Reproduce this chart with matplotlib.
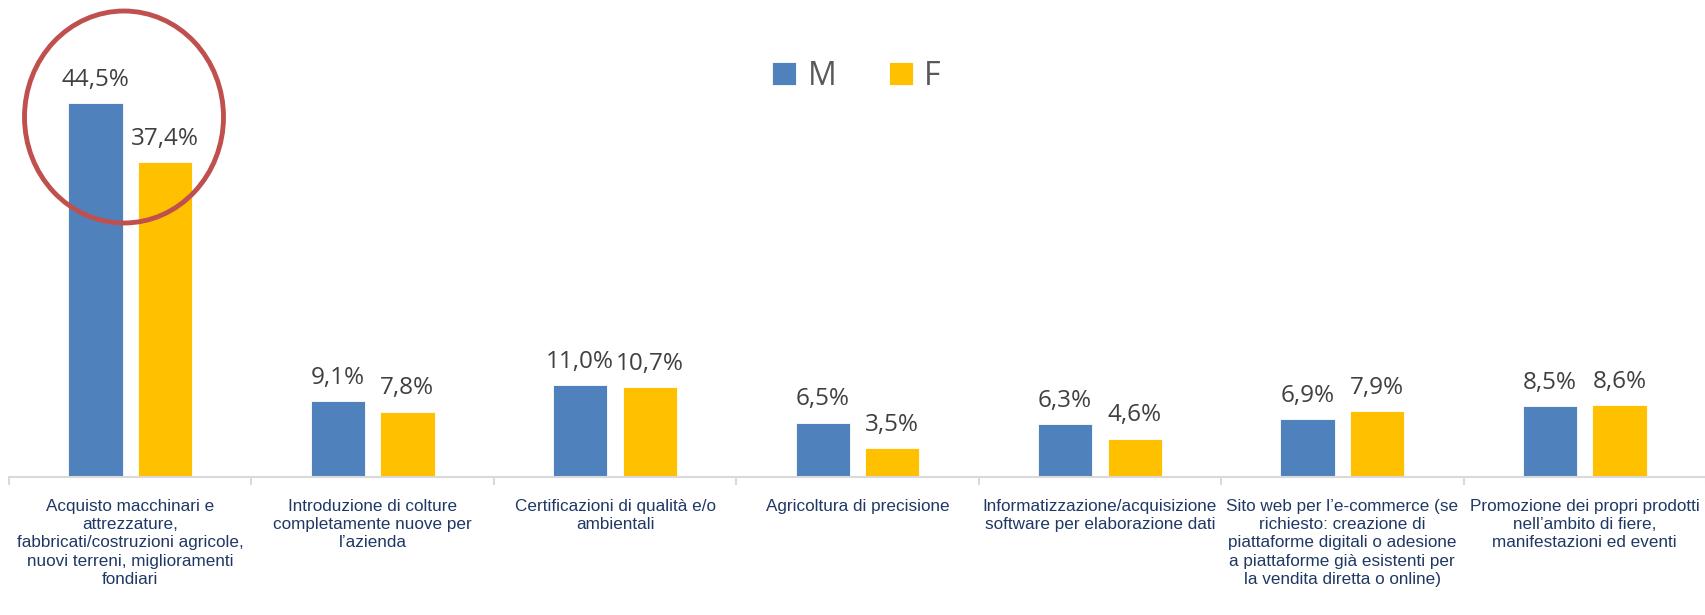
import numpy as np
import matplotlib
matplotlib.use("Agg")
import matplotlib.pyplot as plt
from matplotlib.patches import Ellipse
from matplotlib import font_manager

categories = [
    "Acquisto macchinari e\nattrezzature,\nfabbricati/costruzioni agricole,\nnuovi terreni, miglioramenti\nfondiari",
    "Introduzione di colture\ncompletamente nuove per\nl\u2019azienda",
    "Certificazioni di qualit\u00e0 e/o\nambientali",
    "Agricoltura di precisione",
    "Informatizzazione/acquisizione\nsoftware per elaborazione dati",
    "Sito web per l\u2019e-commerce (se\nrichiesto: creazione di\npiattaforme digitali o adesione\na piattaforme gi\u00e0 esistenti per\nla vendita diretta o online)",
    "Promozione dei propri prodotti\nnell\u2019ambito di fiere,\nmanifestazioni ed eventi",
]
m_vals = [44.5, 9.1, 11.0, 6.5, 6.3, 6.9, 8.5]
f_vals = [37.4, 7.8, 10.7, 3.5, 4.6, 7.9, 8.6]
series = ["M", "F"]

blue = "#4F81BD"
yellow = "#FFC000"

names = {f.name for f in font_manager.fontManager.ttflist}
label_font = "Liberation Sans Narrow" if "Liberation Sans Narrow" in names else "Liberation Sans"
num_font = "Open Sans"

fig = plt.figure(figsize=(17.06, 6.15), dpi=100)
ax = fig.add_axes([9 / 1706, 0.224, 1697 / 1706, 0.776])

x = np.arange(len(categories))
w = 0.224
off = 0.1435
bm = ax.bar(x - off, m_vals, w, color=blue, edgecolor="white", linewidth=0.6, label=series[0])
bf = ax.bar(x + off, f_vals, w, color=yellow, edgecolor="white", linewidth=0.6, label=series[1])

for bars, vals in [(bm, m_vals), (bf, f_vals)]:
    for b, v in zip(bars, vals):
        ax.annotate(f"{v:.1f}%".replace(".", ","),
                    (b.get_x() + b.get_width() / 2, v),
                    xytext=(0, 8), textcoords="offset points",
                    ha="center", va="bottom", fontsize=17.5,
                    color="#404040", family=num_font)

ax.set_xlim(-0.5, len(categories) - 0.5)
ax.set_ylim(0, 56.7)
ax.set_yticks([])
for s in ["top", "right", "left"]:
    ax.spines[s].set_visible(False)
ax.spines["bottom"].set_color("#D9D9D9")
ax.spines["bottom"].set_linewidth(1.5)
ax.set_xticks(np.arange(len(categories) + 1) - 0.5)
ax.set_xticklabels([])
ax.tick_params(axis="x", length=6, width=1.5, color="#D9D9D9", direction="out")

trans = ax.get_xaxis_transform()
for i, c in enumerate(categories):
    ax.text(i, -0.045, c, transform=trans, ha="center", va="top",
            fontsize=12.3, color="#1F3864", family=label_font,
            linespacing=1.28)

leg = fig.legend(handles=[bm, bf], labels=series, loc="center",
                 bbox_to_anchor=(0.502, 0.876), ncol=2, frameon=False,
                 handlelength=0.75, handleheight=0.75, handletextpad=0.35,
                 columnspacing=1.65, prop={"family": num_font, "size": 23})
for t in leg.get_texts():
    t.set_color("#595959")

ell = Ellipse((124 / 1706, 1 - 117 / 615), 199 / 1706, 212 / 615,
              transform=fig.transFigure, fill=False, edgecolor="#C0504D",
              linewidth=3.5)
fig.patches.append(ell)

fig.savefig("out.png", dpi=100)
